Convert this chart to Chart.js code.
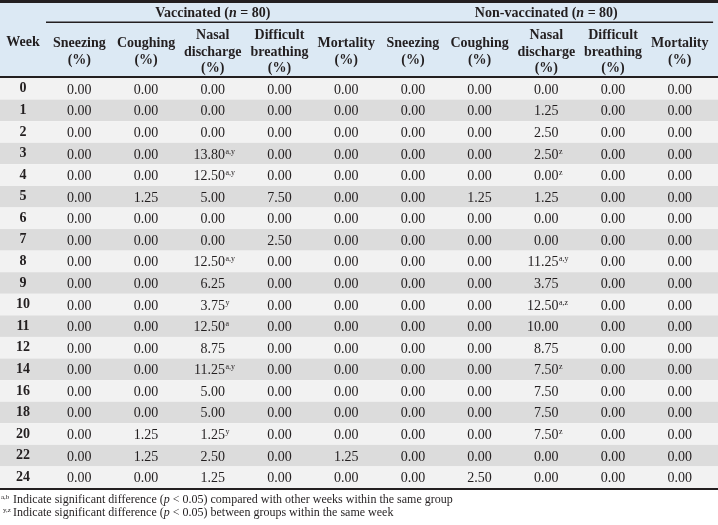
<!DOCTYPE html>
<html>
<head>
<meta charset="utf-8">
<script src="https://cdn.jsdelivr.net/npm/chart.js@4"></script>
<style>
body{margin:0;background:#fff}
#wrap{width:718px;height:525px;position:relative}
</style>
</head>
<body>
<div id="wrap"><canvas id="tbl"></canvas></div>
<script>
// rows and headers
const weeks = ['0','1','2','3','4','5','6','7','8','9','10','11','12','14','16','18','20','22','24'];
const colLabels = [['Sneezing','(%)'],['Coughing','(%)'],['Nasal','discharge','(%)'],['Difficult','breathing','(%)'],['Mortality','(%)']];
const groupNames = [['Vaccinated (','n',' = 80)'],['Non-vaccinated (','n',' = 80)']];

// vaccinated group (%)
const vacSneezing  = [0,0,0,0,0,0,0,0,0,0,0,0,0,0,0,0,0,0,0];
const vacCoughing  = [0,0,0,0,0,1.25,0,0,0,0,0,0,0,0,0,0,1.25,1.25,0];
const vacNasal     = [0,0,0,13.80,12.50,5.00,0,0,12.50,6.25,3.75,12.50,8.75,11.25,5.00,5.00,1.25,2.50,1.25];
const vacNasalSup  = ['','','','a,y','a,y','','','','a,y','','y','a','','a,y','','','y','',''];
const vacBreathing = [0,0,0,0,0,7.50,0,2.50,0,0,0,0,0,0,0,0,0,0,0];
const vacMortality = [0,0,0,0,0,0,0,0,0,0,0,0,0,0,0,0,0,1.25,0];

// non-vaccinated group (%)
const nonSneezing  = [0,0,0,0,0,0,0,0,0,0,0,0,0,0,0,0,0,0,0];
const nonCoughing  = [0,0,0,0,0,1.25,0,0,0,0,0,0,0,0,0,0,0,0,2.50];
const nonNasal     = [0,1.25,2.50,2.50,0,1.25,0,0,11.25,3.75,12.50,10.00,8.75,7.50,7.50,7.50,7.50,0,0];
const nonNasalSup  = ['','','','z','z','','','','a,y','','a,z','','','z','','','z','',''];
const nonBreathing = [0,0,0,0,0,0,0,0,0,0,0,0,0,0,0,0,0,0,0];
const nonMortality = [0,0,0,0,0,0,0,0,0,0,0,0,0,0,0,0,0,0,0];

// footnotes
const notes = [
	['a,b', 'Indicate significant difference (', 'p', ' < 0.05) compared with other weeks within the same group'],
	['y,z', 'Indicate significant difference (', 'p', ' < 0.05) between groups within the same week']
];

const columns = [vacSneezing, vacCoughing, vacNasal, vacBreathing, vacMortality,
	nonSneezing, nonCoughing, nonNasal, nonBreathing, nonMortality];
const supers = [null, null, vacNasalSup, null, null, null, null, nonNasalSup, null, null];
const headers = colLabels.concat(colLabels);

const FONT = "'Liberation Serif', 'Times New Roman', serif";
const INK = '#231f20';

function mixed(ctx, parts, x, y, size, align) {
	// parts: [normal, italic, normal], all bold
	const fonts = ['bold ' + size + 'px ' + FONT, 'bold italic ' + size + 'px ' + FONT, 'bold ' + size + 'px ' + FONT];
	let w = 0;
	parts.forEach((p, i) => { ctx.font = fonts[i]; w += ctx.measureText(p).width; });
	let cx = align === 'center' ? x - w / 2 : x;
	ctx.textAlign = 'left';
	parts.forEach((p, i) => { ctx.font = fonts[i]; ctx.fillText(p, cx, y); cx += ctx.measureText(p).width; });
}

const tablePlugin = {
	id: 'tableCells',
	beforeDraw(chart) {
		const ctx = chart.ctx, y = chart.scales.y;
		const band = y.getPixelForValue(1) - y.getPixelForValue(0);
		ctx.save();
		ctx.fillStyle = '#dce9f4';
		ctx.fillRect(0, 0, chart.width, chart.chartArea.top);
		weeks.forEach((w, i) => {
			ctx.fillStyle = i % 2 ? '#dcdcdc' : '#f2f2f2';
			ctx.fillRect(0, y.getPixelForValue(i) - band / 2, chart.width, band);
		});
		ctx.restore();
	},
	afterDraw(chart) {
		const ctx = chart.ctx, x = chart.scales.x, y = chart.scales.y, area = chart.chartArea;
		ctx.save();
		ctx.fillStyle = INK;
		// rules
		ctx.fillRect(0, 0, chart.width, 3);
		ctx.fillRect(x.left, 21.5, x.right - x.left, 1.5);
		ctx.fillRect(0, area.top - 2, chart.width, 2);
		ctx.fillRect(0, area.bottom, chart.width, 2);

		// group headers
		ctx.textBaseline = 'alphabetic';
		groupNames.forEach((g, i) => {
			const cx = (x.getPixelForValue(i * 5) + x.getPixelForValue(i * 5 + 4)) / 2;
			mixed(ctx, g, cx, 17, 14, 'center');
		});
		ctx.font = 'bold 14px ' + FONT;
		ctx.textAlign = 'center';
		ctx.fillText('Week', (y.left + y.right) / 2, 46);

		// cells
		ctx.font = '14px ' + FONT;
		const half = ctx.measureText('0.00').width / 2;
		columns.forEach((col, c) => {
			const px = x.getPixelForValue(c) + half;
			col.forEach((v, r) => {
				const py = y.getPixelForValue(r) + 5;
				ctx.font = '14px ' + FONT;
				ctx.textAlign = 'right';
				ctx.fillText(v.toFixed(2), px, py);
				const s = supers[c] && supers[c][r];
				if (s) {
					ctx.font = '8px ' + FONT;
					ctx.textAlign = 'left';
					ctx.fillText(s, px + 0.5, py - 5);
				}
			});
		});

		// footnotes
		notes.forEach((n, i) => {
			const by = area.bottom + 15 + i * 13;
			ctx.font = '7px ' + FONT;
			ctx.textAlign = 'left';
			ctx.fillText(n[0], i ? 3 : 1, by - 4);
			let fx = 13;
			[n[1], n[2], n[3]].forEach((p, k) => {
				ctx.font = (k === 1 ? 'italic ' : '') + '12px ' + FONT;
				ctx.fillText(p, fx, by);
				fx += ctx.measureText(p).width;
			});
		});
		ctx.restore();
	}
};

new Chart(document.getElementById('tbl'), {
	type: 'bar',
	data: { labels: weeks, datasets: [] },
	options: {
		responsive: true,
		maintainAspectRatio: false,
		animation: false,
		layout: { padding: { top: 23, bottom: 37, left: 0, right: 0 } },
		plugins: { legend: { display: false }, tooltip: { enabled: false } },
		scales: {
			x: {
				type: 'category',
				position: 'top',
				labels: headers,
				offset: true,
				grid: { display: false, drawTicks: false },
				border: { display: false },
				afterFit: function(scale) { scale.height = 55; },
				ticks: {
					color: INK,
					padding: 9.5,
					maxRotation: 0,
					autoSkip: false,
					crossAlign: 'center',
					font: { family: FONT, size: 14, weight: 'bold', lineHeight: 1.18 }
				}
			},
			y: {
				type: 'category',
				labels: weeks,
				offset: true,
				grid: { display: false, drawTicks: false },
				border: { display: false },
				afterFit: function(scale) { scale.width = 46; },
				ticks: {
					color: INK,
					padding: 16,
					autoSkip: false,
					crossAlign: 'center',
					font: { family: FONT, size: 14, weight: 'bold' }
				}
			}
		}
	},
	plugins: [tablePlugin]
});
</script>
</body>
</html>
